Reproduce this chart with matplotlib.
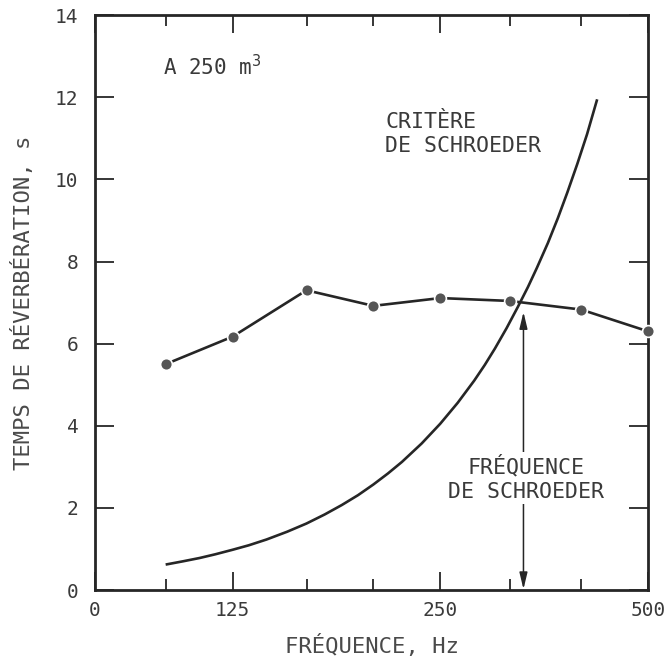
import matplotlib
matplotlib.use("Agg")
import matplotlib.pyplot as plt

# Measured reverberation time (1/3-octave bands)
freq_meas = [100, 125, 160, 200, 250, 315, 400, 500]
t_meas = [5.5, 6.17, 7.3, 6.92, 7.11, 7.04, 6.83, 6.3]

# Schroeder criterion curve
freq_crit = [100, 106, 112, 118, 125, 132, 140, 150, 160, 170, 180, 190, 200, 210,
             220, 235, 250, 265, 280, 290, 300, 312, 324, 335, 345, 358, 370,
             382, 395, 408, 422]
t_crit = [0.62, 0.7, 0.78, 0.87, 0.98, 1.09, 1.23, 1.42, 1.62, 1.84, 2.07, 2.31, 2.57, 2.84,
          3.12, 3.57, 4.05, 4.56, 5.1, 5.48, 5.88, 6.38, 6.9, 7.38, 7.84, 8.45, 9.05,
          9.68, 10.38, 11.1, 11.95]

schroeder_freq = 330
schroeder_t = 6.77

x_ticks = [79, 125, 250, 500]
x_ticklabels = ["0", "125", "250", "500"]
x_minor = [100, 160, 200, 315, 400]
y_ticks = [0, 2, 4, 6, 8, 10, 12, 14]

FONT = "DejaVu Sans Mono"
INK = "#262626"
TXT = "#3a3a3a"

fig = plt.figure(figsize=(6.69, 6.58), dpi=100)
ax = fig.add_axes([0.142, 0.1033, 0.8266, 0.8737])

ax.set_xscale("log", base=2)
ax.set_xlim(79, 500)
ax.set_ylim(0, 14)

# Curve
ax.plot(freq_crit, t_crit, color=INK, lw=1.9, solid_capstyle="butt",
        solid_joinstyle="round", zorder=3)
# Measured points
ax.plot(freq_meas, t_meas, color=INK, lw=1.9, marker="o", ms=8.5,
        mfc="#555555", mec="white", mew=1.2, zorder=4, clip_on=False)

# Schroeder frequency arrow
arrow_kw = dict(arrowstyle="-|>,head_length=0.5,head_width=0.12", color=INK,
                lw=1.1, shrinkA=0, shrinkB=0, mutation_scale=20)
ax.annotate("", xy=(schroeder_freq, schroeder_t), xytext=(schroeder_freq, 3.0),
            arrowprops=arrow_kw, zorder=2)
ax.annotate("", xy=(schroeder_freq, 0.02), xytext=(schroeder_freq, 3.0),
            arrowprops=arrow_kw, zorder=2)

ax.text(schroeder_freq * 1.01, 2.72, "FRÉQUENCE\nDE SCHROEDER", family=FONT,
        fontsize=15.5, color=TXT, ha="center", va="center", linespacing=1.25,
        bbox=dict(facecolor="white", edgecolor="none", pad=2), zorder=5)
ax.text(208, 11.65, "CRITÈRE\nDE SCHROEDER", family=FONT, fontsize=15.5,
        color=TXT, ha="left", va="top", linespacing=1.25)
ax.text(99, 12.75, r"A 250 m$^3$", family=FONT, fontsize=15, color=TXT,
        ha="left", va="center")

# Ticks
ax.set_xticks(x_ticks)
ax.set_xticklabels(x_ticklabels, family=FONT, fontsize=14, color=TXT)
ax.set_xticks(x_minor, minor=True)
ax.set_xticklabels([], minor=True)
ax.set_yticks(y_ticks)
ax.set_yticklabels([str(v) for v in y_ticks], family=FONT, fontsize=14, color=TXT)

ax.tick_params(axis="x", which="major", direction="in", length=13, width=1.3,
               top=True, bottom=True, pad=8, color=INK)
ax.tick_params(axis="x", which="minor", direction="in", length=8, width=1.3,
               top=True, bottom=True, color=INK)
ax.tick_params(axis="y", which="major", direction="in", length=14, width=1.3,
               left=True, right=True, pad=12, color=INK)

for s in ax.spines.values():
    s.set_linewidth(2.0)
    s.set_color(INK)

ax.set_xlabel("FRÉQUENCE, Hz", family=FONT, fontsize=16, color="#4a4a4a", labelpad=10)
ax.set_ylabel("TEMPS DE RÉVERBÉRATION, s", family=FONT, fontsize=16, color="#4a4a4a", labelpad=15)

fig.savefig("out.png", dpi=100, facecolor="white")
